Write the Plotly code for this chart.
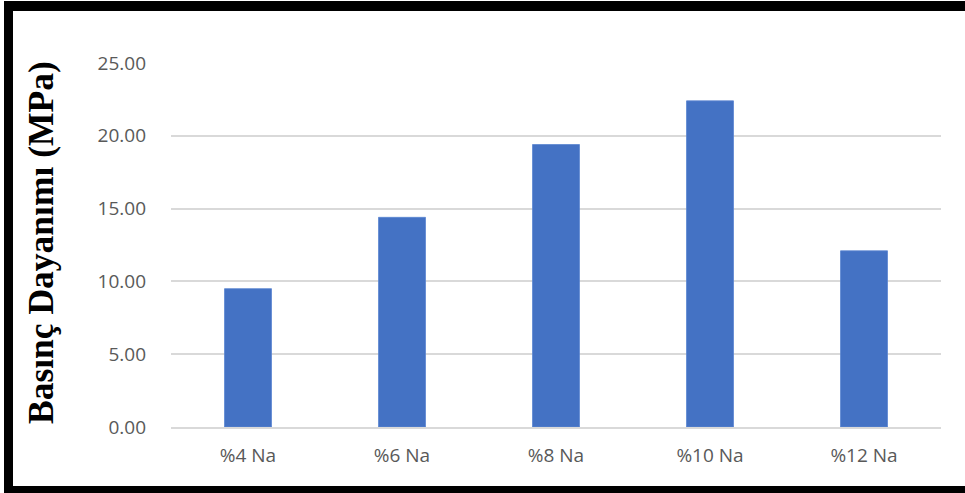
import plotly.graph_objects as go

categories = ["%4 Na", "%6 Na", "%8 Na", "%10 Na", "%12 Na"]
values = [9.5, 14.4, 19.4, 22.4, 12.1]
y_ticks = [0, 5, 10, 15, 20, 25]
y_title = "Basınç Dayanımı (MPa)"

W, H = 965, 493
ML, MR, MT, MB = 171, 24, 63, 66
PW, PH = W - ML - MR, H - MT - MB

def px_x(p):
    return (p - ML) / PW

def px_y(p):
    return (H - MB - p) / PH

fig = go.Figure(go.Bar(
    x=categories, y=values,
    marker=dict(color="#4472C4", line=dict(color="#5b85d0", width=0.8)),
    width=0.305,
    hoverinfo="x+y",
))

fig.update_layout(
    width=W, height=H,
    margin=dict(l=ML, r=MR, t=MT, b=MB),
    paper_bgcolor="white", plot_bgcolor="white",
    showlegend=False,
    font=dict(family="Open Sans", size=19, color="#595959"),
    xaxis=dict(showgrid=False, showline=True, linecolor="#d9d9d9", linewidth=1.5,
               ticks="", tickfont=dict(size=19, color="#595959"),
               ticklabelstandoff=10),
    yaxis=dict(range=[0, 25], tickvals=y_ticks, tickformat=".2f",
               showgrid=True, gridcolor="#d9d9d9", gridwidth=1.5,
               zeroline=False, showline=False, ticks="",
               tickfont=dict(size=19, color="#595959"),
               ticklabelstandoff=24),
)

fig.add_annotation(
    text=y_title, xref="paper", yref="paper",
    x=px_x(41), y=px_y(243), xanchor="center", yanchor="middle",
    textangle=-90, showarrow=False,
    font=dict(family="Liberation Serif", size=35.5, color="black", weight="bold"),
)

# black frame around the picture
frame = [
    (4, 13, 1, 493),
    (4, 975, 1, 11),
    (4, 975, 486, 500),
]
for x0, x1, y0, y1 in frame:
    fig.add_shape(type="rect", xref="paper", yref="paper",
                  x0=px_x(x0), x1=px_x(x1), y0=px_y(y1), y1=px_y(y0),
                  fillcolor="black", line=dict(width=0), layer="above")

fig.write_html(
    "out.html",
    config={"displayModeBar": False},
    post_script="document.body.style.margin='0';document.body.style.overflow='hidden';",
)
